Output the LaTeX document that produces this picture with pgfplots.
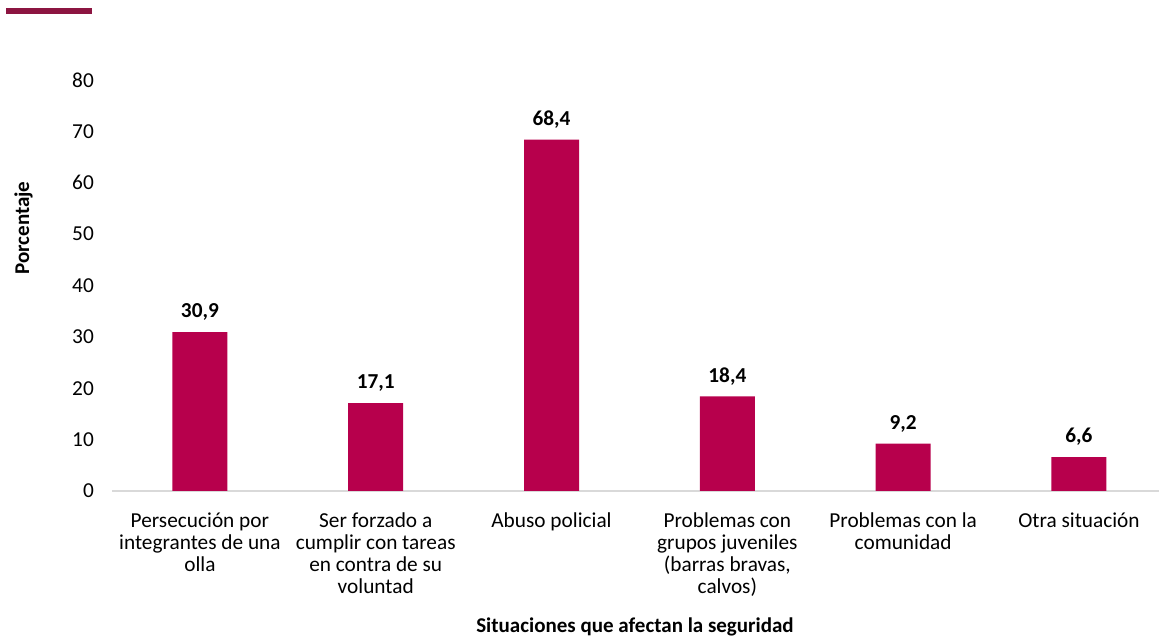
\documentclass[border=0pt]{standalone}
\usepackage{fontspec}
\setmainfont{Carlito}
\usepackage{pgfplots}
\pgfplotsset{compat=1.18}
\definecolor{barred}{RGB}{183,0,76}
\definecolor{topbar}{RGB}{140,21,65}
\definecolor{axisgrey}{RGB}{217,217,217}
\begin{document}
\begin{tikzpicture}[x=1pt,y=1pt]
  \path[use as bounding box] (0,0) rectangle (1159,639);
  % small accent bar top left
  \fill[topbar] (6,625) rectangle (92,631);
  \begin{axis}[
    at={(112pt,148pt)}, anchor=south west,
    scale only axis, width=1047pt, height=411pt,
    ybar, bar width=55pt,
    xmin=-0.5, xmax=5.455, ymin=0, ymax=80,
    ytick={0,10,...,80},
    xtick={0,...,5},
    xticklabels={
      {Persecución por\\integrantes de una\\olla},
      {Ser forzado a\\cumplir con tareas\\en contra de su\\voluntad},
      {Abuso policial},
      {Problemas con\\grupos juveniles\\(barras bravas,\\calvos)},
      {Problemas con la\\comunidad},
      {Otra situación}},
    major tick length=0pt,
    axis x line*=bottom, axis y line*=left,
    x axis line style={draw=axisgrey, line width=1.5pt, -},
    y axis line style={draw=none},
    /pgf/number format/assume math mode=true,
    ticklabel style={font=\fontsize{21.3}{22}\selectfont, text=black},
    yticklabel style={anchor=east, inner sep=0pt, xshift=-18pt},
    xticklabel style={align=center, anchor=north, inner sep=0pt, yshift=-22pt},
    nodes near coords,
    nodes near coords style={font=\fontsize{21.3}{22}\selectfont\bfseries,
      text=black, anchor=south, yshift=8pt,
      /pgf/number format/.cd, fixed, fixed zerofill, precision=1, use comma},
    clip=false,
  ]
  \addplot[fill=barred, draw=none] coordinates {
    (0,30.9) (1,17.1) (2,68.4) (3,18.4) (4,9.2) (5,6.6)
  };
  \end{axis}
  \node[font=\fontsize{21}{22}\selectfont\bfseries, anchor=base] at (635,6) {Situaciones que afectan la seguridad};
  \node[font=\fontsize{21}{22}\selectfont\bfseries, rotate=90, anchor=base] at (29,411) {Porcentaje};
\end{tikzpicture}
\end{document}
